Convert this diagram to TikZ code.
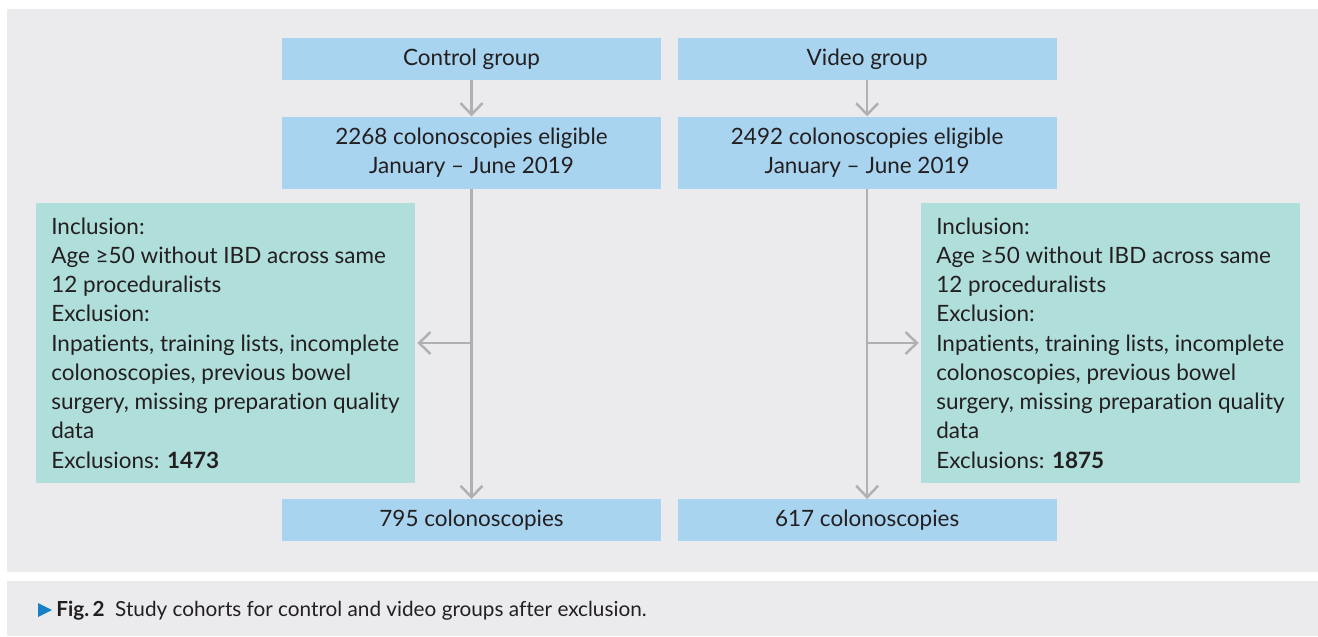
\documentclass[tikz,border=0pt]{standalone}
\usepackage{fontspec}
\setmainfont{Lato}[Ligatures=NoCommon]
\usetikzlibrary{positioning, arrows.meta}

\definecolor{panelgray}{RGB}{235,235,238}
\definecolor{boxblue}{RGB}{168,212,240}
\definecolor{boxgreen}{RGB}{176,222,219}
\definecolor{arrowgray}{RGB}{176,176,179}
\definecolor{textdark}{RGB}{35,31,32}
\definecolor{figblue}{RGB}{22,128,200}

\tikzset{
    groupbox/.style={fill=boxblue, minimum width=7.58cm, minimum height=0.84cm,
        inner sep=0pt, align=center},
    eligbox/.style={groupbox, minimum height=1.44cm},
    inclbox/.style={fill=boxgreen, minimum width=7.58cm, minimum height=5.6cm,
        inner sep=0pt, align=left},
    flow/.style={draw=arrowgray, line width=1.4pt,
        -{Straight Barb[length=6.5pt,width=12.5pt]}}
}

\begin{document}
\begin{tikzpicture}[x=0.02cm, y=-0.02cm,
        font=\fontsize{12.8}{16.64}\selectfont, text=textdark]
    \useasboundingbox (0,0) rectangle (1318,636);
    \fill[panelgray] (7,9) rectangle (1318,572);
    \fill[panelgray] (7,581) rectangle (1318,636);

    % both groups
    \node[groupbox] (ctrl) at (471.5,59) {Control group};
    \node[groupbox, right=0.32cm of ctrl] (video) {Video group};
    \node[eligbox, below=0.72cm of ctrl] (ctrlelig)
        {2268 colonoscopies eligible\\January – June 2019};
    \node[eligbox, below=0.72cm of video] (videlig)
        {2492 colonoscopies eligible\\January – June 2019};

    % criteria
    \node[inclbox] (ctrlincl) at (225.5,343)
        {Inclusion:\\Age ≥50 without IBD across same\\12 proceduralists\\Exclusion:\\
         Inpatients, training lists, incomplete\\colonoscopies, previous bowel\\
         surgery, missing preparation quality\\data\\Exclusions: \textbf{1473}};
    \node[inclbox] (vidincl) at (1110.5,343)
        {Inclusion:\\Age ≥50 without IBD across same\\12 proceduralists\\Exclusion:\\
         Inpatients, training lists, incomplete\\colonoscopies, previous bowel\\
         surgery, missing preparation quality\\data\\Exclusions: \textbf{1875}};

    \node[groupbox, below=6.2cm of ctrlelig] (ctrlfinal) {795 colonoscopies};
    \node[groupbox, below=6.2cm of videlig] (vidfinal) {617 colonoscopies};

    \draw[flow] (ctrl) -- (ctrlelig);
    \draw[flow] (video) -- (videlig);
    \draw[flow] (ctrlelig) -- (ctrlfinal);
    \draw[flow] (videlig) -- (vidfinal);
    \draw[flow, shorten >=0.04cm] (ctrlelig.south |- ctrlincl.east) -- (ctrlincl.east);
    \draw[flow, shorten >=0.04cm] (videlig.south |- vidincl.west) -- (vidincl.west);

    % caption
    \fill[figblue] (38,603) -- (52,610) -- (38,617) -- cycle;
    \node[anchor=base west, inner sep=0pt, font=\fontsize{11.8}{14}\selectfont]
        (caption) at (56,616.5)
        {\textbf{Fig.\,2}\hspace{6pt}Study cohorts for control and video groups after exclusion.};
\end{tikzpicture}
\end{document}
